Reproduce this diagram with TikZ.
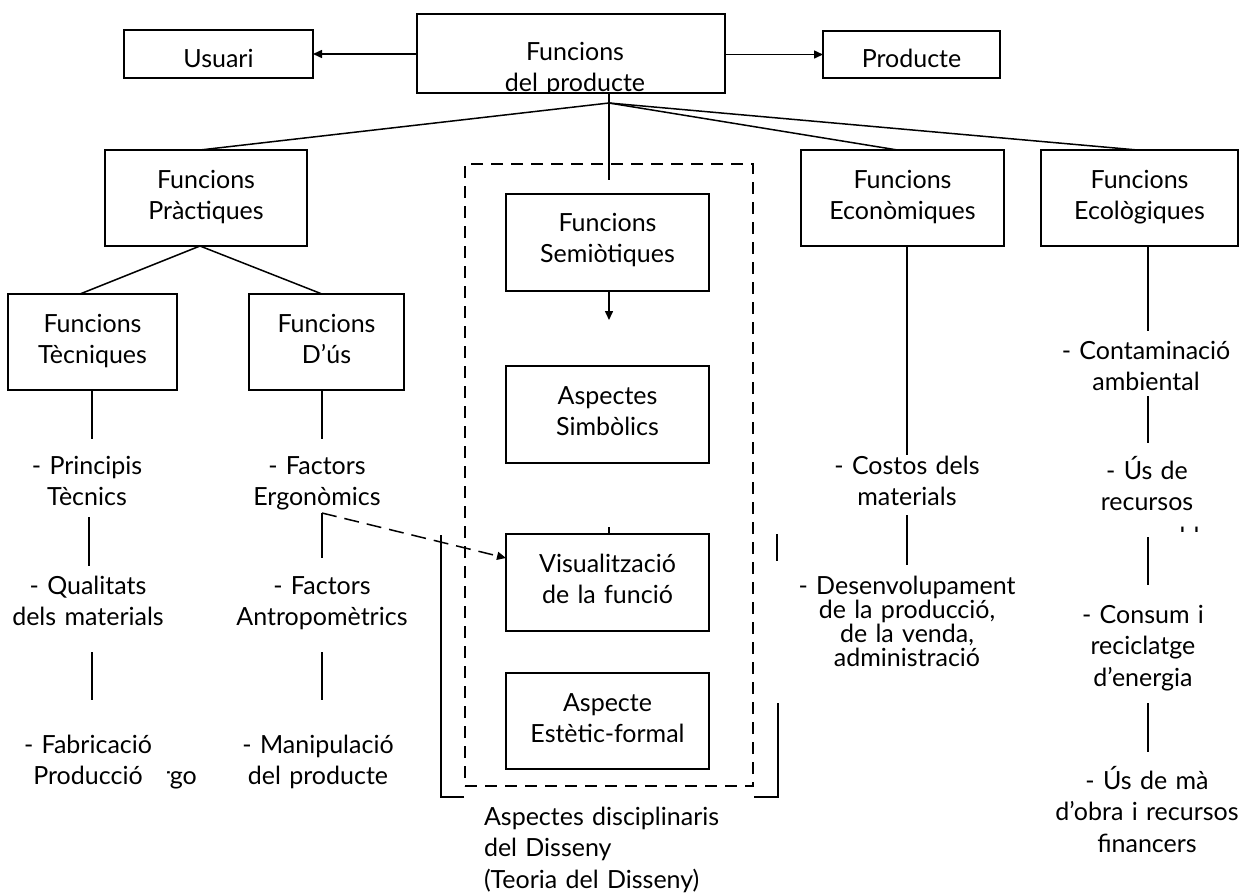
\documentclass[tikz,border=0pt]{standalone}
\usepackage{fontspec}
\setmainfont{Lato}
\usetikzlibrary{arrows.meta}
\newcommand\lbfont{\fontsize{25}{31.5}\selectfont}
\begin{document}
\begin{tikzpicture}[x=1pt,y=-1pt,
  every node/.style={inner sep=0pt,outer sep=0pt},
  box/.style={draw,line width=1.7pt},
  lbl/.style={font=\lbfont,align=center,text width=280pt,anchor=base},
  link/.style={line width=1.5pt},
  arr/.style={link,-{Triangle[length=9pt,width=8pt]}},
  darr/.style={link,dash pattern=on 15pt off 8pt,-{Triangle[length=9pt,width=8pt]}},
  dbox/.style={draw,line width=1.6pt,dash pattern=on 12pt off 8pt}]
\useasboundingbox (0,0) rectangle (1239,892);

% ---- boxes
\node[box,minimum width=308pt,minimum height=79pt] (prod) at (571,53.5) {};
\node[box,minimum width=189pt,minimum height=48pt] (usr) at (218.5,54) {};
\node[box,minimum width=177pt,minimum height=47pt] (pro) at (911.5,54.5) {};
\node[box,minimum width=202pt,minimum height=96pt] (prac) at (206,198) {};
\node[box,minimum width=169pt,minimum height=96pt] (tec) at (92.5,342) {};
\node[box,minimum width=155pt,minimum height=96pt] (dus) at (326.5,342) {};
\node[box,minimum width=203pt,minimum height=97pt] (semi) at (607.5,242.5) {};
\node[box,minimum width=203pt,minimum height=97pt] (simb) at (607.5,414.5) {};
\node[box,minimum width=203pt,minimum height=97pt] (visu) at (607.5,582.5) {};
\node[box,minimum width=203pt,minimum height=96pt] (este) at (607.5,721) {};
\node[box,minimum width=203pt,minimum height=96pt] (econ) at (902.5,198) {};
\node[box,minimum width=197pt,minimum height=96pt] (ecol) at (1139.5,198) {};
\node[dbox,minimum width=288pt,minimum height=622pt] (disc) at (609,475) {};

% ---- box labels
\begin{scope}
  \clip (prod.north west) rectangle (prod.south east);
  \node[lbl] (prodT) at (575,60) {Funcions\\del producte};
\end{scope}
\node[lbl] (usrT) at (218.5,67) {Usuari};
\node[lbl] (proT) at (911.5,67) {Producte};
\node[lbl] (pracT) at (206,188) {Funcions\\Pràctiques};
\node[lbl] (tecT) at (92.5,332) {Funcions\\Tècniques};
\node[lbl] (dusT) at (326.5,332) {Funcions\\D’ús};
\node[lbl] (semiT) at (607.5,231) {Funcions\\Semiòtiques};
\node[lbl] (simbT) at (607.5,404) {Aspectes\\Simbòlics};
\node[lbl] (visuT) at (607.5,572) {Visualització\\de la funció};
\node[lbl] (esteT) at (607.5,711) {Aspecte\\Estètic-formal};
\node[lbl] (econT) at (902.5,188) {Funcions\\Econòmiques};
\node[lbl] (ecolT) at (1139.5,188) {Funcions\\Ecològiques};

% ---- free texts
\node[lbl] (pri) at (87,474) {- Principis\\Tècnics};
\node[lbl] (qual) at (88,594) {- Qualitats\\dels materials};
\node[lbl] (fab) at (88,753) {- Fabricació\\Producció};
\node[lbl] (fer) at (317,474) {- Factors\\Ergonòmics};
\node[lbl] (ant) at (322,594) {- Factors\\Antropomètrics};
\node[lbl] (man) at (318,753) {- Manipulació\\del producte};
\node[lbl] (cos) at (907,474) {- Costos dels\\materials};
\node[lbl,font={\fontsize{25}{24}\selectfont}] (des) at (907,594)
  {- Desenvolupament\\de la producció,\\de la venda,\\administració};
\node[lbl] (cont) at (1146,359) {- Contaminació\\ambiental};
\node[lbl] (recu) at (1147,479) {- Ús de\\recursos};
\node[lbl] (cons) at (1143,623) {- Consum i\\reciclatge\\d’energia};
\node[lbl] (mao) at (1147,789) {- Ús de mà\\d’obra i recursos\\financers};
\node[font=\lbfont,align=left,text width=300pt,anchor=base west] (asp) at (484,825)
  {Aspectes disciplinaris\\del Disseny\\(Teoria del Disseny)};

% partly hidden words
\begin{scope}
  \clip (167,768) rectangle (202,792);
  \node[font=\lbfont,anchor=base west] (frag1) at (161,784) {rgo};
\end{scope}
\begin{scope}
  \clip (1060,526) rectangle (1230,531);
  \node[font=\lbfont,anchor=base] (frag2) at (1147,545) {no renovables};
\end{scope}

% ---- connectors
\coordinate (J) at (609,103);
\coordinate (semiIn) at (609,180);
\draw[arr] (prod.west |- usr.east) -- (usr.east);
\draw[arr] (prod.east |- pro.west) -- (pro.west);
\draw[link] (J |- prod.south) -- (semiIn);
\draw[link] (J) -- ([xshift=-6pt]prac.north);
\draw[link] (J) -- ([xshift=-5pt]econ.north);
\draw[link] (J) -- ([xshift=-2pt]ecol.north);
\coordinate (Pb) at (200,246);
\draw[link] (tec.north -| 80,0) -- (Pb) -- (dus.north -| 322,0);

% Tècniques column
\coordinate (c1a) at (92,439);
\coordinate (c1b) at (89,517); \coordinate (c1c) at (89,566);
\coordinate (c1d) at (92,652); \coordinate (c1e) at (92,700);
\draw[link] (tec.south -| c1a) -- (c1a);
\draw[link] (c1b) -- (c1c);
\draw[link] (c1d) -- (c1e);
% D'ús column
\coordinate (c2a) at (322,439);
\coordinate (c2b) at (322,513); \coordinate (c2c) at (322,558);
\coordinate (c2d) at (322,652); \coordinate (c2e) at (322,700);
\draw[link] (dus.south -| c2a) -- (c2a);
\draw[link] (c2b) -- (c2c);
\draw[link] (c2d) -- (c2e);
\coordinate (vin) at (visu.west |- 0,558);
\draw[darr] (c2b) -- (vin);
% Econòmiques column
\coordinate (c3a) at (907,455);
\coordinate (c3b) at (907,515); \coordinate (c3c) at (907,565);
\draw[link] (econ.south -| c3a) -- (c3a);
\draw[link] (c3b) -- (c3c);
% Ecològiques column
\coordinate (c4a) at (1148,331);
\coordinate (c4b) at (1148,396); \coordinate (c4c) at (1148,443);
\coordinate (c4d) at (1148,537); \coordinate (c4e) at (1148,585);
\coordinate (c4f) at (1148,703); \coordinate (c4g) at (1148,752);
\draw[link] (ecol.south -| c4a) -- (c4a);
\draw[link] (c4b) -- (c4c);
\draw[link] (c4d) -- (c4e);
\draw[link] (c4f) -- (c4g);
% semiotic chain
\coordinate (simbIn) at (609,320);
\draw[arr] (semi.south -| simbIn) -- (simbIn);
\coordinate (stub) at (609,527);
\draw[link] (stub) -- (stub |- visu.north);

% bracket round the disciplinary aspects
\coordinate (bl1) at (464,797); \coordinate (bl2) at (441,797); \coordinate (bl3) at (441,535);
\coordinate (br1) at (754,797); \coordinate (br2) at (778,797); \coordinate (br3) at (778,703);
\coordinate (br4) at (777,534); \coordinate (br5) at (777,561);
\draw[link] (bl1) -- (bl2) -- (bl3);
\draw[link] (br1) -- (br2) -- (br3);
\draw[link] (br4) -- (br5);
\end{tikzpicture}
\end{document}
